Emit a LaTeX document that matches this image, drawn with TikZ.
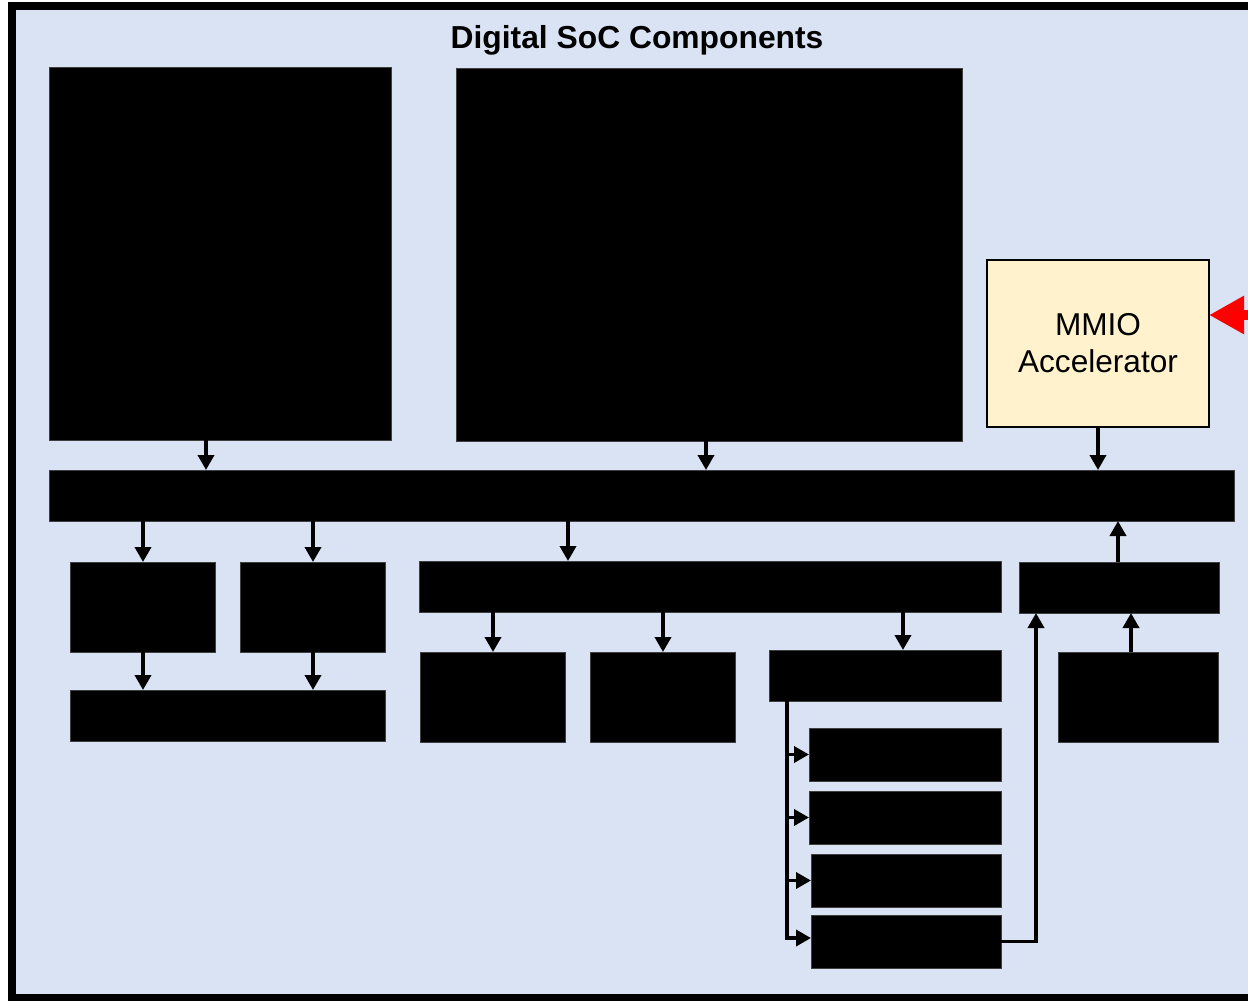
\documentclass[tikz,border=0pt]{standalone}
\usepackage{fontspec}
\setmainfont{Liberation Sans}
\usetikzlibrary{arrows.meta}
\definecolor{bgblue}{RGB}{218,227,243}
\definecolor{mmiofill}{RGB}{255,242,204}
\begin{document}
\begin{tikzpicture}[x=1pt,y=-1pt,
  blk/.style={fill=black, draw=black!75, line width=0.6pt, inner sep=0pt, outer sep=0pt, anchor=north west},
  arr/.style={line width=3.6pt, -{Triangle[length=15pt,width=16pt]}},
  plain/.style={line width=3.6pt}]
\useasboundingbox (0,0) rectangle (1248,1001);
\clip (0,0) rectangle (1248,1001);
% frame
\draw[line width=8pt, fill=bgblue] (12,6) rectangle (1290,998);
\node[font=\fontsize{31.8}{38}\selectfont\bfseries, anchor=base] (title) at (637,48) {Digital SoC Components};
% boxes
\node[blk, minimum width=342pt, minimum height=373pt] (A) at (49,67) {};
\node[blk, minimum width=506pt, minimum height=373pt] (B) at (456,68) {};
\node[fill=mmiofill, draw=black, line width=2pt, inner sep=0pt, outer sep=0pt, minimum width=222pt, minimum height=167pt, align=center,
      font=\fontsize{31.6}{37}\selectfont] (M) at (1098,343.5) {MMIO\\Accelerator};
\node[blk, minimum width=1185pt, minimum height=51pt] (bus) at (49,470) {};
\node[blk, minimum width=145pt, minimum height=90pt] (C1) at (70,562) {};
\node[blk, minimum width=145pt, minimum height=90pt] (C2) at (240,562) {};
\node[blk, minimum width=582pt, minimum height=51pt] (D) at (419,561) {};
\node[blk, minimum width=200pt, minimum height=51pt] (E) at (1019,562) {};
\node[blk, minimum width=315pt, minimum height=51pt] (F) at (70,690) {};
\node[blk, minimum width=145pt, minimum height=90pt] (G1) at (420,652) {};
\node[blk, minimum width=145pt, minimum height=90pt] (G2) at (590,652) {};
\node[blk, minimum width=232pt, minimum height=51pt] (H) at (769,650) {};
\node[blk, minimum width=160pt, minimum height=90pt] (I) at (1058,652) {};
\node[blk, minimum width=192pt, minimum height=53pt] (J1) at (809,728) {};
\node[blk, minimum width=192pt, minimum height=53pt] (J2) at (809,791) {};
\node[blk, minimum width=190pt, minimum height=53pt] (J3) at (811,854) {};
\node[blk, minimum width=190pt, minimum height=53pt] (J4) at (811,915) {};
% red input arrow
\draw[red, line width=10pt, -{Triangle[length=35pt,width=36pt]}] (1300,315) -- (M.east |- 0,315);
% arrows into bus
\draw[arr] (A.south -| 206,0) -- (bus.north -| 206,0);
\draw[arr] (B.south -| 706,0) -- (bus.north -| 706,0);
\draw[arr] (M.south) -- (bus.north -| M.south);
\draw[arr] (E.north -| 1118,0) -- (bus.south -| 1118,0);
% arrows from bus
\draw[arr] (bus.south -| 143,0) -- (C1.north -| 143,0);
\draw[arr] (bus.south -| 313,0) -- (C2.north -| 313,0);
\draw[arr] (bus.south -| 568,0) -- (D.north -| 568,0);
% C to F
\draw[arr] (C1.south -| 143,0) -- (F.north -| 143,0);
\draw[arr] (C2.south -| 313,0) -- (F.north -| 313,0);
% D to G, H
\draw[arr] (D.south -| 493,0) -- (G1.north -| 493,0);
\draw[arr] (D.south -| 663,0) -- (G2.north -| 663,0);
\draw[arr] (D.south -| 903,0) -- (H.north -| 903,0);
% I to E
\draw[arr] (I.north -| 1131,0) -- (E.south -| 1131,0);
% H to J stack
\draw[arr] (H.south -| 787,0) |- (J1.west);
\draw[arr] (H.south -| 787,0) |- (J2.west);
\draw[arr] (H.south -| 787,0) |- (J3.west);
\draw[arr] (H.south -| 787,0) |- ([yshift=3.5pt]J4.west);
% J4 to E
\draw[arr] (J4.east) -| (E.south -| 1036,0);
\end{tikzpicture}
\end{document}
